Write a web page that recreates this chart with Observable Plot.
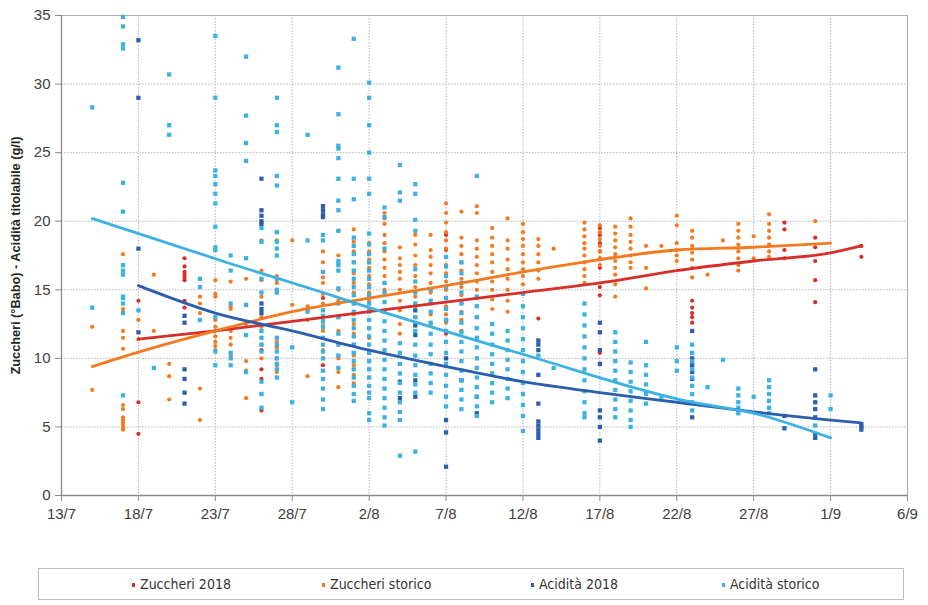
<!DOCTYPE html>
<html>
<head>
<meta charset="utf-8">
<script src="https://cdn.jsdelivr.net/npm/d3@7"></script>
<script src="https://cdn.jsdelivr.net/npm/@observablehq/plot@0.6"></script>
<style>
  html, body { margin: 0; padding: 0; background: #fff; }
  #chart { width: 928px; }
  .legend {
    position: relative; margin: 18px 0 0 38px; width: 866px; height: 32px;
    border: 1px solid #bdbdbd; box-sizing: border-box;
    font-family: "Liberation Sans Narrow", "DejaVu Sans Condensed", sans-serif;
    font-size: 14px; color: #333;
  }
  .legend span.item { position: absolute; top: 7px; white-space: nowrap; }
  .legend i { display: inline-block; width: 3px; height: 4px; margin-right: 5px; vertical-align: middle; }
</style>
</head>
<body>
<div id="chart"></div>
<script>
// ---- tick labels ----
const xTickLabels = ["13/7","18/7","23/7","28/7","2/8","7/8","12/8","17/8","22/8","27/8","1/9","6/9"];
const yTicks = [0, 5, 10, 15, 20, 25, 30, 35];
const yLabel = "Zuccheri (°Babo) - Acidità titolabile (g/l)";
const seriesNames = ["Zuccheri 2018", "Zuccheri storico", "Acidità 2018", "Acidità storico"];
const seriesColors = ["#d62f2a", "#f5791f", "#2b5fad", "#3bb1e4"];

// ---- scatter data: [month-day, values] ----
const zuccheri2018 = [
  ["07-18", [14.2, 6.8, 4.5]],
  ["07-21", [17.3, 16.7, 16.3, 16.1, 15.9, 15.7, 14.2, 13.7]],
  ["07-26", [10.6, 9.2, 8.5, 6.2]],
  ["07-30", [14.4, 9.5]],
  ["08-05", [13.0]],
  ["08-07", [19.0, 17.9, 11.8]],
  ["08-13", [12.9]],
  ["08-17", [19.5, 19.0, 18.4, 17.8, 17.3, 16.6, 15.2, 14.6, 10.4]],
  ["08-23", [14.2, 13.7, 13.3, 13.0, 12.6]],
  ["08-29", [19.9, 19.4, 17.9, 17.3]],
  ["08-31", [18.8, 18.1, 17.1, 15.7, 14.1]],
  ["09-03", [18.2, 17.4]]
];
const zuccheriStorico = [
  ["07-15", [12.3, 7.7]],
  ["07-17", [17.6, 13.6, 13.4, 12.0, 11.5, 10.7, 6.6, 6.3, 5.7, 5.5, 5.3, 5.1, 4.9, 4.8]],
  ["07-18", [12.8, 11.4]],
  ["07-19", [16.1, 12.0]],
  ["07-20", [9.6, 8.7, 7.0]],
  ["07-22", [14.5, 14.0, 13.3, 7.8, 5.5]],
  ["07-23", [15.7, 14.7, 14.5, 12.8, 12.3, 12.0, 11.6, 11.2, 10.9, 10.6]],
  ["07-24", [15.6, 13.8, 13.6, 12.0, 11.5, 11.0, 10.2]],
  ["07-25", [15.8, 12.5, 9.8, 9.1, 7.1]],
  ["07-26", [18.6, 16.4, 15.7, 14.5, 13.0, 12.3, 11.0, 10.0]],
  ["07-27", [18.6, 16.0, 15.5, 14.8, 11.2, 10.8, 10.0, 9.5, 9.0, 8.6]],
  ["07-28", [18.6, 13.9]],
  ["07-29", [13.8, 12.8, 8.7]],
  ["07-30", [17.8, 17.0, 15.9, 15.5, 14.7, 14.0, 12.8, 12.4, 12.0, 10.6]],
  ["07-31", [19.3, 17.5, 16.8, 15.0, 14.2, 13.0, 12.0, 11.0, 10.0, 9.0, 7.9]],
  ["08-01", [19.4, 18.5, 17.8, 17.0, 16.2, 15.5, 14.8, 14.0, 13.2, 12.5, 11.8, 11.0, 10.2, 9.5, 8.8, 8.2]],
  ["08-02", [18.4, 17.8, 17.2, 16.6, 16.0, 15.4, 14.8, 14.2, 13.5, 12.8, 12.2, 11.5]],
  ["08-03", [20.6, 20.2, 19.8, 19.0, 18.4, 17.8, 17.2, 16.6, 16.0, 15.5, 15.0]],
  ["08-04", [18.1, 17.3, 16.8, 16.3, 15.8, 15.0, 14.2, 13.5, 12.5, 11.8]],
  ["08-05", [19.0, 18.3, 17.5, 16.8, 16.0, 15.2, 14.5, 13.8, 13.0]],
  ["08-06", [19.0, 17.9, 17.4, 16.8, 16.2, 15.5, 14.8, 14.0, 13.2, 12.5]],
  ["08-07", [21.3, 20.6, 19.9, 19.2, 18.6, 18.0, 17.4, 16.8, 16.2, 15.6, 15.0, 14.4, 13.8, 13.2, 12.6, 12.0]],
  ["08-08", [20.7, 18.8, 18.2, 17.6, 17.0, 16.4, 15.8, 15.2, 14.6, 14.0, 13.4, 12.8, 12.0]],
  ["08-09", [21.1, 20.6, 18.6, 18.0, 17.4, 16.8, 16.2, 15.6, 15.0, 14.4, 13.8, 13.0]],
  ["08-10", [19.5, 18.8, 18.2, 17.6, 17.0, 16.3, 15.6, 15.0, 14.3, 13.6]],
  ["08-11", [20.2, 18.6, 18.0, 17.2, 16.5, 15.8, 15.0, 14.2, 13.4]],
  ["08-12", [19.8, 19.2, 18.7, 18.2, 17.6, 17.0, 16.5, 16.0, 15.4]],
  ["08-13", [18.7, 18.2, 17.6, 17.0, 16.4, 15.8]],
  ["08-14", [18.0]],
  ["08-16", [19.9, 19.4, 18.9, 18.4, 18.0, 17.5, 17.0, 16.5, 16.0, 15.5]],
  ["08-17", [19.7, 19.2, 18.7, 18.2, 17.8, 17.3, 16.8]],
  ["08-18", [19.6, 19.1, 18.6, 18.1, 17.6, 17.1, 16.6, 16.1, 15.4, 14.5]],
  ["08-19", [20.2, 19.6, 19.0, 18.5, 18.0, 17.5, 17.0, 16.6]],
  ["08-20", [18.2, 16.6, 15.1]],
  ["08-21", [18.2]],
  ["08-22", [20.4, 19.7, 18.4, 17.9, 17.5, 17.1]],
  ["08-23", [19.3, 18.8, 18.2, 17.7, 17.2, 16.6, 15.9]],
  ["08-24", [16.1]],
  ["08-25", [18.6]],
  ["08-26", [19.8, 19.3, 18.8, 18.3, 17.8, 17.3, 16.8, 16.4]],
  ["08-27", [18.9, 17.3]],
  ["08-28", [20.5, 19.8, 19.3, 18.8, 18.3, 17.8, 17.4]],
  ["08-31", [20.0]]
];
const acidita2018 = [
  ["07-18", [33.2, 29.0, 18.0, 11.9]],
  ["07-21", [13.1, 12.6, 9.2, 8.5, 7.5, 6.7]],
  ["07-26", [23.1, 20.8, 20.4, 20.0, 19.8, 14.0, 13.6, 13.3]],
  ["07-30", [21.1, 20.8, 20.5, 20.3]],
  ["08-04", [8.3, 7.1]],
  ["08-05", [13.5, 12.4, 11.7, 8.4, 7.2]],
  ["08-07", [12.8, 10.0, 5.5, 4.6, 2.1]],
  ["08-08", [8.4]],
  ["08-09", [7.2, 6.0]],
  ["08-13", [11.3, 11.0, 10.6, 8.8, 6.7, 5.4, 5.1, 4.8, 4.5, 4.2]],
  ["08-17", [12.6, 11.9, 10.6, 9.6, 6.2, 5.7, 5.0, 4.0]],
  ["08-23", [12.0, 10.0, 9.5, 9.0, 8.5, 5.7]],
  ["08-29", [5.8, 4.9]],
  ["08-31", [9.2, 7.3, 6.8, 6.3, 5.7, 4.5, 4.2]],
  ["09-03", [5.2, 5.0, 4.8]]
];
const aciditaStorico = [
  ["07-15", [28.3, 13.7]],
  ["07-17", [34.9, 34.2, 32.9, 32.6, 22.8, 20.7, 16.8, 16.4, 16.1, 14.5, 14.4, 14.0, 13.3, 7.3]],
  ["07-18", [13.5]],
  ["07-19", [9.3]],
  ["07-20", [30.7, 27.0, 26.3]],
  ["07-22", [15.8, 15.2, 12.8]],
  ["07-23", [33.5, 29.0, 23.7, 23.3, 22.7, 22.0, 21.3, 19.6, 18.1, 17.9, 13.0, 10.5, 9.5]],
  ["07-24", [17.5, 16.4, 14.0, 10.4, 10.0, 9.5]],
  ["07-25", [32.0, 27.7, 25.7, 24.4, 17.3, 13.9, 11.7, 9.0]],
  ["07-26", [19.5, 18.5, 15.8, 14.8, 12.0, 11.5, 11.0, 10.5, 8.3, 7.4, 6.4]],
  ["07-27", [29.0, 27.0, 26.5, 23.3, 22.6, 19.2, 18.5, 18.0, 17.5, 15.8, 15.0, 14.8, 11.5, 11.0, 10.5, 10.0, 9.6, 9.2, 8.6]],
  ["07-28", [10.8, 6.8]],
  ["07-29", [26.3, 18.6, 13.4]],
  ["07-30", [19.0, 18.6, 16.3, 13.5, 13.1, 12.7, 12.3, 11.5, 11.0, 10.5, 10.0, 9.1, 8.5, 7.8, 7.0, 6.3]],
  ["07-31", [31.2, 27.8, 25.5, 25.3, 24.6, 23.1, 21.5, 20.8, 19.3, 17.1, 16.8, 16.4, 15.1, 14.0, 13.0, 11.8, 11.0, 10.2, 9.3]],
  ["08-01", [33.3, 23.1, 21.6, 18.8, 18.2, 17.6, 17.0, 16.4, 15.8, 15.2, 14.6, 14.0, 13.4, 12.8, 12.2, 11.6, 11.0, 10.4, 9.8, 9.2, 8.6, 8.0, 7.4, 6.9]],
  ["08-02", [30.1, 29.0, 27.0, 25.0, 23.1, 22.0, 19.1, 18.3, 17.6, 17.0, 16.4, 15.8, 15.2, 14.6, 14.0, 13.4, 12.8, 12.2, 11.6, 11.0, 10.4, 9.8, 9.2, 8.6, 8.0, 7.5, 7.1, 6.0, 5.5]],
  ["08-03", [21.0, 20.3, 18.0, 15.5, 14.8, 14.1, 13.4, 12.7, 12.0, 11.3, 10.6, 9.9, 9.2, 8.5, 7.8, 7.1, 6.4, 5.7, 5.1]],
  ["08-04", [24.1, 22.1, 21.5, 11.1, 10.4, 9.6, 8.9, 8.2, 7.5, 6.8, 6.1, 5.5, 2.9]],
  ["08-05", [22.7, 22.0, 20.1, 19.3, 16.5, 15.6, 14.8, 14.0, 13.0, 12.0, 11.0, 10.2, 9.5, 8.8, 8.1, 7.5, 3.2]],
  ["08-06", [15.0, 14.2, 13.4, 12.6, 11.8, 11.0, 10.3, 9.6, 8.9, 8.2, 7.5]],
  ["08-07", [17.4, 16.7, 16.0, 15.2, 14.4, 13.6, 12.8, 12.0, 11.2, 10.4, 9.6, 8.8, 8.0, 7.2, 6.5]],
  ["08-08", [17.0, 16.2, 15.5, 14.8, 14.0, 13.3, 12.6, 11.9, 11.2, 10.5, 9.8, 9.1, 8.4, 7.7, 7.0, 6.3]],
  ["08-09", [23.3, 14.5, 13.8, 13.0, 12.2, 11.5, 10.8, 10.0, 9.3, 8.6, 7.9, 7.2, 6.5, 5.8]],
  ["08-10", [12.5, 11.8, 11.0, 10.3, 9.6, 8.9, 8.2, 7.5, 6.8]],
  ["08-11", [12.0, 11.3, 10.6, 9.9, 9.2, 8.5, 7.8, 7.1]],
  ["08-12", [14.7, 13.8, 13.0, 12.2, 11.4, 10.6, 9.8, 9.0, 8.2, 7.4, 6.6, 5.8, 4.7]],
  ["08-13", [10.2]],
  ["08-14", [9.3]],
  ["08-16", [14.0, 13.2, 12.4, 11.6, 10.8, 10.0, 9.2, 8.4, 7.6, 6.8, 6.0, 5.7]],
  ["08-18", [11.9, 11.2, 10.5, 9.8, 9.1, 8.4, 7.7, 7.0, 6.3, 5.7]],
  ["08-19", [9.7, 9.0, 8.3, 7.6, 6.9, 6.2, 5.5, 5.0]],
  ["08-20", [11.2, 9.5, 8.8, 8.1, 7.4, 6.7]],
  ["08-21", [7.2]],
  ["08-22", [10.8, 9.8, 9.1]],
  ["08-23", [11.0, 10.4, 9.8, 9.2, 8.6, 8.0, 7.4, 6.8, 6.2]],
  ["08-24", [7.9]],
  ["08-25", [9.9]],
  ["08-26", [7.8, 7.3, 6.8, 6.4, 6.0]],
  ["08-27", [7.2]],
  ["08-28", [8.4, 7.9, 7.4, 6.9, 6.4, 6.0]],
  ["08-31", [5.1]],
  ["09-01", [7.3, 6.3]]
];

// ---- trend lines ----
const trendZuccheri2018 = [["07-18",11.4],["07-23",12.0],["07-28",12.7],["08-02",13.4],["08-07",14.1],["08-12",14.8],["08-17",15.5],["08-22",16.4],["08-27",17.1],["09-01",17.7],["09-03",18.2]];
const trendZuccheriStorico = [["07-15",9.4],["07-18",10.45],["07-23",12.0],["07-28",13.4],["08-02",14.4],["08-07",15.3],["08-12",16.3],["08-17",17.2],["08-22",17.9],["08-27",18.1],["09-01",18.4]];
const trendAcidita2018 = [["07-18",15.3],["07-23",13.3],["07-28",12.0],["08-02",10.6],["08-07",9.4],["08-12",8.3],["08-17",7.5],["08-22",6.8],["08-27",6.1],["09-01",5.5],["09-03",5.3]];
const trendAciditaStorico = [["07-15",20.2],["07-24",16.9],["07-30",14.8],["08-02",13.7],["08-12",10.3],["08-23",6.8],["08-27",6.0],["09-01",4.2]];

// ---- build tables ----
const toDate = md => new Date(`2018-${md}T00:00:00Z`);
const labelToDate = s => { const [d, m] = s.split("/").map(Number); return new Date(Date.UTC(2018, m - 1, d)); };
const tickDates = xTickLabels.map(labelToDate);
const flat = (arr, name) => arr.flatMap(([md, vals]) => vals.map(v => ({date: toDate(md), value: v, series: name})));
const trend = (arr, name) => arr.map(([md, v]) => ({date: toDate(md), value: v, series: name}));
const scatter = [zuccheri2018, zuccheriStorico, acidita2018, aciditaStorico];
const trends = [trendZuccheri2018, trendZuccheriStorico, trendAcidita2018, trendAciditaStorico];
const fmt = d => xTickLabels[tickDates.findIndex(t => +t === +d)] ?? "";

const font = "'Liberation Sans', Arial, sans-serif";
const gridStyle = {stroke: "#b5b5b5", strokeOpacity: 1, strokeWidth: 1, strokeDasharray: "1.5,1.5"};

const marks = [
  Plot.gridX(tickDates.slice(1, -1), gridStyle),
  Plot.gridY(yTicks.slice(1, -1), gridStyle),
  Plot.ruleY([35], {stroke: "#b0b0b0", strokeWidth: 1.2}),
  Plot.ruleX([tickDates[tickDates.length - 1]], {stroke: "#b0b0b0", strokeWidth: 1.2}),
  Plot.axisX({ticks: tickDates, tickFormat: fmt, tickSize: 6, tickPadding: 7, stroke: "#8a8a8a", label: null, fontSize: 15, fill: "#404040"}),
  Plot.axisY({ticks: yTicks, tickSize: 6, tickPadding: 5, stroke: "#8a8a8a", label: null, fontSize: 15, fill: "#404040"}),
  Plot.ruleX([tickDates[0]], {stroke: "#8a8a8a", strokeWidth: 1.3}),
  Plot.ruleY([0], {stroke: "#8a8a8a", strokeWidth: 1.3}),
];
const symbols = ["circle", "circle", "square", "square"];
const radii = [2.1, 2.1, 2.4, 2.4];
scatter.forEach((arr, i) => {
  marks.push(Plot.dot(flat(arr, seriesNames[i]), {x: "date", y: "value", fill: seriesColors[i], r: radii[i], symbol: symbols[i], stroke: "none"}));
});
trends.forEach((arr, i) => {
  marks.push(Plot.line(trend(arr, seriesNames[i]), {x: "date", y: "value", stroke: seriesColors[i], strokeWidth: 2.8, curve: "monotone-x"}));
});
marks.push(Plot.text([yLabel], {frameAnchor: "left", rotate: -90, dx: -46, fontWeight: "bold", fontSize: 13, fill: "#262626", className: "ylabel"}));

const chart = Plot.plot({
  width: 928, height: 550,
  marginLeft: 61, marginRight: 21, marginTop: 15, marginBottom: 55,
  style: {fontFamily: font, fontSize: "15px", background: "#fff", color: "#404040", overflow: "visible"},
  x: {type: "utc", domain: [tickDates[0], tickDates[tickDates.length - 1]]},
  y: {domain: [0, 35]},
  marks
});
// compress the rotated axis title to the reference's length, centred on the plot
const titleLen = 238;
chart.querySelectorAll("g.ylabel text").forEach(t => {
  t.setAttribute("text-anchor", "start");
  t.setAttribute("x", String(-titleLen / 2));
  t.setAttribute("textLength", String(titleLen));
  t.setAttribute("lengthAdjust", "spacingAndGlyphs");
});
document.getElementById("chart").appendChild(chart);

// ---- legend ----
const legend = document.createElement("div");
legend.className = "legend";
const legendX = [93, 283, 492, 683];
seriesNames.forEach((name, i) => {
  const s = document.createElement("span");
  s.className = "item";
  s.style.left = legendX[i] + "px";
  s.innerHTML = `<i style="background:${seriesColors[i]}"></i>${name}`;
  legend.appendChild(s);
});
document.body.appendChild(legend);
</script>
</body>
</html>
